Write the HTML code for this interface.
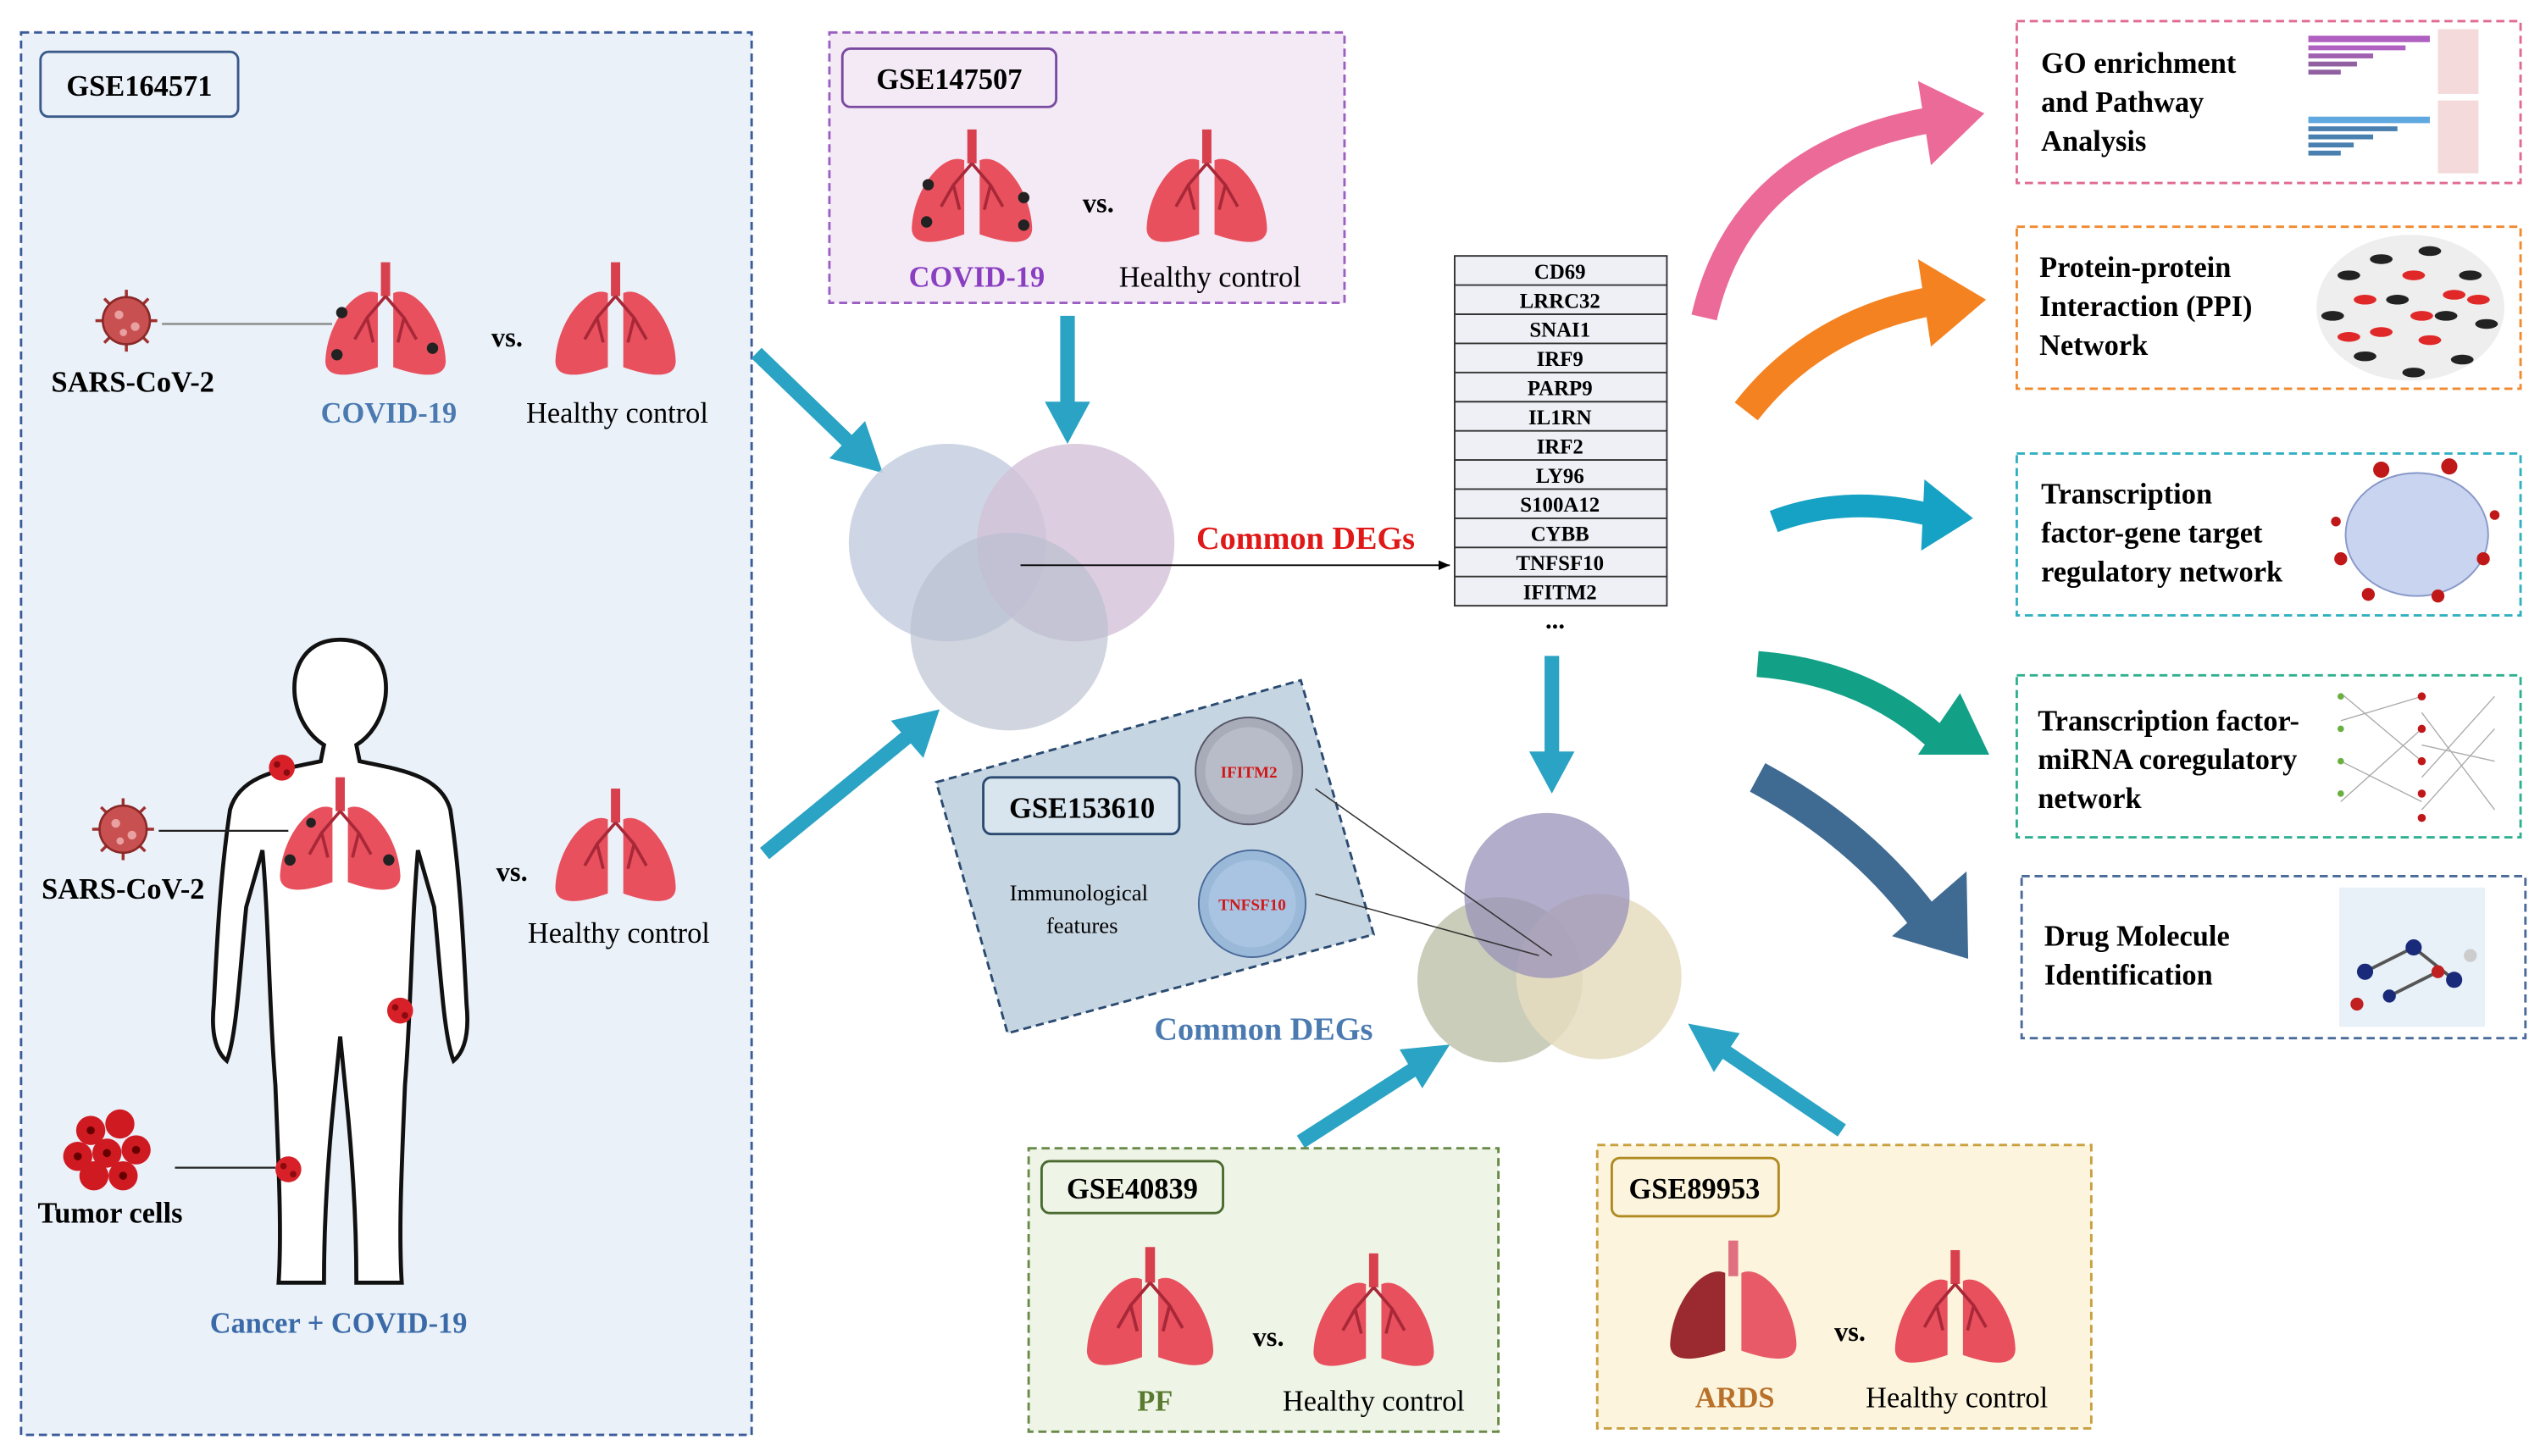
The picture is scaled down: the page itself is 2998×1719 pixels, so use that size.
<!DOCTYPE html>
<html><head><meta charset="utf-8"><style>html,body{margin:0;padding:0;background:#fff}svg{display:block}</style></head><body>
<svg width="2998" height="1719" viewBox="0 0 1568 899" xmlns="http://www.w3.org/2000/svg" font-family="Liberation Serif, serif">
<defs>
<symbol id="lung" viewBox="-42 -42 84 84" overflow="visible">
<rect x="-3" y="-40" width="6" height="22" fill="#d8404e"/>
<path d="M-5,-20 C-18,-26 -38,-2 -39,24 C-39,34 -28,36 -5,28 Z" fill="#e8505e"/>
<path d="M5,-20 C18,-26 38,-2 39,24 C39,34 28,36 5,28 Z" fill="#e8505e"/>
<path d="M0,-18 L-12,-4 L-20,10 M-12,-4 L-8,12 M0,-18 L12,-4 L20,10 M12,-4 L8,12" stroke="#a82838" stroke-width="2" fill="none"/>
</symbol>
<symbol id="lungd" viewBox="-42 -42 84 84" overflow="visible">
<rect x="-3" y="-40" width="6" height="22" fill="#e07080"/>
<path d="M-5,-20 C-18,-26 -38,-2 -39,24 C-39,34 -28,36 -5,28 Z" fill="#9a2a30"/>
<path d="M5,-20 C18,-26 38,-2 39,24 C39,34 28,36 5,28 Z" fill="#e85a68"/>
</symbol>
<symbol id="virus" viewBox="-22 -22 44 44" overflow="visible">
<g stroke="#a03030" stroke-width="2"><path d="M0,-21V21M-21,0H21M-15,-15L15,15M15,-15L-15,15"/></g>
<circle r="16" fill="#c85050"/><circle r="16" fill="none" stroke="#8a2828" stroke-width="1.5"/>
<circle cx="-5" cy="-4" r="3" fill="#e8a0a0"/><circle cx="6" cy="4" r="3" fill="#e8a0a0"/><circle cx="-2" cy="8" r="2.5" fill="#e8a0a0"/>
</symbol>
<symbol id="tumor" viewBox="-10 -10 20 20" overflow="visible">
<circle r="8" fill="#d82028"/><circle cx="-3" cy="-2" r="2" fill="#8a0a10"/><circle cx="3" cy="3" r="2" fill="#8a0a10"/>
</symbol>
<marker id="ah" markerWidth="8" markerHeight="8" refX="7" refY="4" orient="auto"><path d="M0,1 L7,4 L0,7" fill="#000"/></marker>
</defs>

<!-- left panel -->
<rect x="13" y="20" width="451" height="866" fill="#eaf1f8" stroke="#3a5a9a" stroke-width="1.5" stroke-dasharray="5,3"/>
<rect x="25" y="32" width="122" height="40" rx="5" fill="#eaf1f8" stroke="#3a5a8a" stroke-width="1.5"/>
<text x="86" y="59" font-size="18" font-weight="bold" text-anchor="middle">GSE164571</text>
<use href="#virus" x="58" y="178" width="40" height="40"/>
<line x1="100" y1="200" x2="205" y2="200" stroke="#999" stroke-width="1.5"/>
<use href="#lung" x="198" y="160" width="80" height="80"/>
<circle cx="211" cy="193" r="3.5" fill="#222"/><circle cx="208" cy="219" r="3.5" fill="#222"/><circle cx="267" cy="215" r="3.5" fill="#222"/>
<text x="313" y="214" font-size="17" font-weight="bold" text-anchor="middle">vs.</text>
<use href="#lung" x="340" y="160" width="80" height="80"/>
<text x="82" y="242" font-size="18" font-weight="bold" text-anchor="middle">SARS-CoV-2</text>
<text x="240" y="261" font-size="18" font-weight="bold" fill="#4a7ab0" text-anchor="middle">COVID-19</text>
<text x="381" y="261" font-size="18" text-anchor="middle">Healthy control</text>

<!-- human body -->
<path d="M210,395 C190,395 180,410 182,430 C184,445 192,455 200,460 L198,470 C175,475 148,478 142,500 C136,540 134,580 132,620 C130,640 134,650 140,655 C146,640 148,600 152,560 L162,525 C166,570 166,620 170,670 C172,720 174,760 172,792 L200,792 C200,760 202,720 206,680 L210,640 L214,680 C218,720 220,760 220,792 L248,792 C246,760 248,720 250,670 C254,620 254,570 258,525 L268,560 C272,600 274,640 280,655 C286,650 290,640 288,620 C286,580 284,540 278,500 C272,478 245,475 222,470 L220,460 C228,455 236,445 238,430 C240,410 230,395 210,395 Z" fill="#fff" stroke="#111" stroke-width="2.5"/>
<use href="#lung" x="170" y="478" width="80" height="80"/>
<circle cx="179" cy="531" r="3.5" fill="#222"/><circle cx="240" cy="531" r="3.5" fill="#222"/><circle cx="192" cy="508" r="3" fill="#222"/>
<use href="#tumor" x="164" y="464" width="20" height="20"/>
<use href="#tumor" x="237" y="614" width="20" height="20"/>
<use href="#tumor" x="168" y="712" width="20" height="20"/>
<use href="#virus" x="56" y="492" width="40" height="40"/>
<line x1="98" y1="513" x2="178" y2="513" stroke="#222" stroke-width="1.2"/>
<text x="76" y="555" font-size="18" font-weight="bold" text-anchor="middle">SARS-CoV-2</text>
<text x="316" y="544" font-size="17" font-weight="bold" text-anchor="middle">vs.</text>
<use href="#lung" x="340" y="485" width="80" height="80"/>
<text x="382" y="582" font-size="18" text-anchor="middle">Healthy control</text>
<g>
<circle cx="56" cy="698" r="9" fill="#d01a22"/><circle cx="74" cy="694" r="9" fill="#d01a22"/><circle cx="48" cy="714" r="9" fill="#d01a22"/><circle cx="66" cy="712" r="9" fill="#d01a22"/><circle cx="84" cy="710" r="9" fill="#d01a22"/><circle cx="58" cy="726" r="9" fill="#d01a22"/><circle cx="76" cy="726" r="9" fill="#d01a22"/>
<circle cx="56" cy="698" r="2.5" fill="#600"/><circle cx="66" cy="712" r="2.5" fill="#600"/><circle cx="76" cy="726" r="2.5" fill="#600"/><circle cx="84" cy="710" r="2.5" fill="#600"/><circle cx="48" cy="714" r="2.5" fill="#600"/>
</g>
<line x1="108" y1="721" x2="170" y2="721" stroke="#222" stroke-width="1.2"/>
<text x="68" y="755" font-size="18" font-weight="bold" text-anchor="middle">Tumor cells</text>
<text x="209" y="823" font-size="18" font-weight="bold" fill="#3a6aa8" text-anchor="middle">Cancer + COVID-19</text>

<!-- purple box -->
<rect x="512" y="20" width="318" height="167" fill="#f3eaf6" stroke="#9a5fc0" stroke-width="1.5" stroke-dasharray="5,3"/>
<rect x="520" y="30" width="132" height="36" rx="5" fill="#f3eaf6" stroke="#7a4aa0" stroke-width="1.5"/>
<text x="586" y="55" font-size="18" font-weight="bold" text-anchor="middle">GSE147507</text>
<use href="#lung" x="560" y="78" width="80" height="80"/>
<circle cx="573" cy="114" r="3.5" fill="#222"/><circle cx="572" cy="137" r="3.5" fill="#222"/><circle cx="632" cy="122" r="3.5" fill="#222"/><circle cx="632" cy="139" r="3.5" fill="#222"/>
<text x="678" y="131" font-size="17" font-weight="bold" text-anchor="middle">vs.</text>
<use href="#lung" x="705" y="78" width="80" height="80"/>
<text x="603" y="177" font-size="18" font-weight="bold" fill="#8a3fc0" text-anchor="middle">COVID-19</text>
<text x="747" y="177" font-size="18" text-anchor="middle">Healthy control</text>

<!-- teal arrows -->
<g stroke="#2aa3c4" stroke-width="9" fill="#2aa3c4">
<line x1="467" y1="218" x2="525" y2="274"/>
<line x1="659" y1="195" x2="659" y2="252"/>
<line x1="472" y1="527" x2="560" y2="455"/>
<line x1="958" y1="405" x2="958" y2="468"/>
<line x1="803" y1="705" x2="873" y2="660"/>
<line x1="1137" y1="698" x2="1063" y2="648"/>
</g>
<g fill="#2aa3c4">
<polygon points="545,292 512,283 534,260"/>
<polygon points="659,274 645,248 673,248"/>
<polygon points="580,438 570,468 550,445"/>
<polygon points="958,490 944,464 972,464"/>
<polygon points="895,645 878,672 864,648"/>
<polygon points="1042,632 1074,638 1058,662"/>
</g>

<!-- venn 1 -->
<circle cx="585" cy="335" r="61" fill="#c5cfe0" fill-opacity="0.85"/>
<circle cx="664" cy="335" r="61" fill="#d3c2d8" fill-opacity="0.8"/>
<circle cx="623" cy="390" r="61" fill="#b8bfd0" fill-opacity="0.65"/>
<line x1="630" y1="349" x2="895" y2="349" stroke="#000" stroke-width="1" marker-end="url(#ah)"/>
<text x="806" y="339" font-size="20" font-weight="bold" fill="#e01818" text-anchor="middle">Common  DEGs</text>

<!-- gene table -->
<g font-size="13" font-weight="bold" text-anchor="middle">
<rect x="898" y="158" width="131" height="216" fill="#eef0f6" stroke="#333" stroke-width="1"/>
<g stroke="#333" stroke-width="1">
<line x1="898" y1="176" x2="1029" y2="176"/><line x1="898" y1="194" x2="1029" y2="194"/><line x1="898" y1="212" x2="1029" y2="212"/><line x1="898" y1="230" x2="1029" y2="230"/><line x1="898" y1="248" x2="1029" y2="248"/><line x1="898" y1="266" x2="1029" y2="266"/><line x1="898" y1="284" x2="1029" y2="284"/><line x1="898" y1="302" x2="1029" y2="302"/><line x1="898" y1="320" x2="1029" y2="320"/><line x1="898" y1="338" x2="1029" y2="338"/><line x1="898" y1="356" x2="1029" y2="356"/>
</g>
<text x="963" y="172">CD69</text><text x="963" y="190">LRRC32</text><text x="963" y="208">SNAI1</text><text x="963" y="226">IRF9</text><text x="963" y="244">PARP9</text><text x="963" y="262">IL1RN</text><text x="963" y="280">IRF2</text><text x="963" y="298">LY96</text><text x="963" y="316">S100A12</text><text x="963" y="334">CYBB</text><text x="963" y="352">TNFSF10</text><text x="963" y="370">IFITM2</text>
<text x="960" y="388" font-size="16">...</text>
</g>

<!-- tilted box -->
<polygon points="578,483 803,420 848,577 622,638" fill="#c6d5e2" stroke="#2a4a70" stroke-width="1.5" stroke-dasharray="5,3"/>
<rect x="607" y="480" width="121" height="35" rx="5" fill="#d8e4ee" stroke="#2a4a70" stroke-width="1.5"/>
<text x="668" y="505" font-size="18" font-weight="bold" text-anchor="middle">GSE153610</text>
<text x="666" y="556" font-size="14" text-anchor="middle">Immunological</text>
<text x="668" y="576" font-size="14" text-anchor="middle">features</text>
<circle cx="771" cy="476" r="33" fill="#a8abb8" stroke="#556" stroke-width="1"/>
<circle cx="771" cy="476" r="27" fill="#b8bcc8"/>
<text x="771" y="480" font-size="10" font-weight="bold" fill="#d01818" text-anchor="middle">IFITM2</text>
<circle cx="773" cy="558" r="33" fill="#9ab8d8" stroke="#4a6a9a" stroke-width="1"/>
<circle cx="773" cy="558" r="27" fill="#a8c4e2"/>
<text x="773" y="562" font-size="10" font-weight="bold" fill="#d01818" text-anchor="middle">TNFSF10</text>

<!-- venn 2 -->
<circle cx="926" cy="605" r="51" fill="#c4c8b2" fill-opacity="0.9"/>
<circle cx="987" cy="603" r="51" fill="#e6dcc0" fill-opacity="0.85"/>
<circle cx="955" cy="553" r="51" fill="#9892b8" fill-opacity="0.75"/>
<line x1="812" y1="487" x2="958" y2="590" stroke="#333" stroke-width="0.8"/>
<line x1="812" y1="552" x2="950" y2="590" stroke="#333" stroke-width="0.8"/>
<text x="780" y="642" font-size="20" font-weight="bold" fill="#4a7ab0" text-anchor="middle">Common  DEGs</text>

<!-- green box -->
<rect x="635" y="709" width="290" height="175" fill="#eef4e6" stroke="#6a8a4a" stroke-width="1.5" stroke-dasharray="5,3"/>
<rect x="643" y="717" width="112" height="32" rx="5" fill="#eef4e6" stroke="#4a6a30" stroke-width="1.5"/>
<text x="699" y="740" font-size="18" font-weight="bold" text-anchor="middle">GSE40839</text>
<use href="#lung" x="668" y="768" width="84" height="84"/>
<text x="783" y="831" font-size="17" font-weight="bold" text-anchor="middle">vs.</text>
<use href="#lung" x="808" y="772" width="80" height="80"/>
<text x="713" y="871" font-size="18" font-weight="bold" fill="#5a7a30" text-anchor="middle">PF</text>
<text x="848" y="871" font-size="18" text-anchor="middle">Healthy control</text>

<!-- yellow box -->
<rect x="986" y="707" width="305" height="175" fill="#fcf4dc" stroke="#c8a040" stroke-width="1.5" stroke-dasharray="5,3"/>
<rect x="995" y="715" width="103" height="36" rx="5" fill="#fcf4dc" stroke="#b08a20" stroke-width="1.5"/>
<text x="1046" y="740" font-size="18" font-weight="bold" text-anchor="middle">GSE89953</text>
<use href="#lungd" x="1028" y="764" width="84" height="84"/>
<text x="1142" y="828" font-size="17" font-weight="bold" text-anchor="middle">vs.</text>
<use href="#lung" x="1167" y="770" width="80" height="80"/>
<text x="1071" y="869" font-size="18" font-weight="bold" fill="#b8702a" text-anchor="middle">ARDS</text>
<text x="1208" y="869" font-size="18" text-anchor="middle">Healthy control</text>

<!-- curved arrows -->
<path d="M1052,196 Q1075,95 1192,74" stroke="#ec6a98" stroke-width="16" fill="none"/>
<polygon points="1184,50 1225,70 1192,102" fill="#ec6a98"/>
<path d="M1078,254 Q1120,200 1192,186" stroke="#f58220" stroke-width="18" fill="none"/>
<polygon points="1184,160 1226,185 1192,214" fill="#f58220"/>
<path d="M1095,322 Q1140,305 1192,318" stroke="#16a2c4" stroke-width="14" fill="none"/>
<polygon points="1188,296 1218,320 1186,340" fill="#16a2c4"/>
<path d="M1085,410 Q1150,415 1195,455" stroke="#12a086" stroke-width="16" fill="none"/>
<polygon points="1210,428 1228,466 1184,466" fill="#12a086"/>
<path d="M1085,480 Q1150,515 1190,570" stroke="#3f6a92" stroke-width="20" fill="none"/>
<polygon points="1214,538 1215,592 1168,578" fill="#3f6a92"/>

<!-- right boxes -->
<g fill="#fff" stroke-width="1.5" stroke-dasharray="5,3">
<rect x="1245" y="13" width="311" height="100" stroke="#e06a90"/>
<rect x="1245" y="140" width="311" height="100" stroke="#f08a30"/>
<rect x="1245" y="280" width="311" height="100" stroke="#30b0c0"/>
<rect x="1245" y="417" width="311" height="100" stroke="#30b090"/>
<rect x="1248" y="541" width="311" height="100" stroke="#4a6a9a"/>
</g>
<g font-size="18" font-weight="bold">
<text x="1260" y="45">GO enrichment</text><text x="1260" y="69">and Pathway</text><text x="1260" y="93">Analysis</text>
<text x="1259" y="171">Protein-protein</text><text x="1259" y="195">Interaction (PPI)</text><text x="1259" y="219">Network</text>
<text x="1260" y="311">Transcription</text><text x="1260" y="335">factor-gene target</text><text x="1260" y="359">regulatory network</text>
<text x="1258" y="451">Transcription factor-</text><text x="1258" y="475">miRNA coregulatory</text><text x="1258" y="499">network</text>
<text x="1262" y="584">Drug Molecule</text><text x="1262" y="608">Identification</text>
</g>
<!-- thumbnails -->
<g>
<rect x="1425" y="22" width="75" height="4" fill="#b060c0"/><rect x="1425" y="28" width="60" height="3" fill="#b060c0"/><rect x="1425" y="33" width="40" height="3" fill="#a060b0"/><rect x="1425" y="38" width="30" height="3" fill="#9060a0"/><rect x="1425" y="43" width="20" height="3" fill="#9060a0"/>
<rect x="1505" y="18" width="25" height="40" fill="#f4dada"/>
<rect x="1425" y="72" width="75" height="4" fill="#60a8e0"/><rect x="1425" y="78" width="55" height="3" fill="#4a80b0"/><rect x="1425" y="83" width="40" height="3" fill="#4a80b0"/><rect x="1425" y="88" width="28" height="3" fill="#4a80b0"/><rect x="1425" y="93" width="20" height="3" fill="#4a80b0"/>
<rect x="1505" y="62" width="25" height="45" fill="#f4dada"/>
</g>
<g>
<ellipse cx="1488" cy="190" rx="58" ry="45" fill="#eee"/>
<g fill="#222"><ellipse cx="1450" cy="170" rx="7" ry="3"/><ellipse cx="1470" cy="160" rx="7" ry="3"/><ellipse cx="1500" cy="155" rx="7" ry="3"/><ellipse cx="1525" cy="170" rx="7" ry="3"/><ellipse cx="1440" cy="195" rx="7" ry="3"/><ellipse cx="1535" cy="200" rx="7" ry="3"/><ellipse cx="1460" cy="220" rx="7" ry="3"/><ellipse cx="1490" cy="230" rx="7" ry="3"/><ellipse cx="1520" cy="222" rx="7" ry="3"/><ellipse cx="1480" cy="185" rx="7" ry="3"/><ellipse cx="1510" cy="195" rx="7" ry="3"/></g>
<g fill="#e02828"><ellipse cx="1460" cy="185" rx="7" ry="3"/><ellipse cx="1490" cy="170" rx="7" ry="3"/><ellipse cx="1515" cy="182" rx="7" ry="3"/><ellipse cx="1470" cy="205" rx="7" ry="3"/><ellipse cx="1500" cy="210" rx="7" ry="3"/><ellipse cx="1530" cy="185" rx="7" ry="3"/><ellipse cx="1450" cy="208" rx="7" ry="3"/><ellipse cx="1495" cy="195" rx="7" ry="3"/></g>
</g>
<g>
<ellipse cx="1492" cy="330" rx="44" ry="38" fill="#c8d4f0" stroke="#8898c8"/>
<g fill="#c01818"><circle cx="1470" cy="290" r="5"/><circle cx="1512" cy="288" r="5"/><circle cx="1445" cy="345" r="4"/><circle cx="1462" cy="367" r="4"/><circle cx="1505" cy="368" r="4"/><circle cx="1533" cy="345" r="4"/><circle cx="1442" cy="322" r="3"/><circle cx="1540" cy="318" r="3"/></g>
</g>
<g stroke="#aaa" stroke-width="0.7">
<line x1="1445" y1="428" x2="1495" y2="470"/><line x1="1445" y1="445" x2="1495" y2="430"/><line x1="1445" y1="470" x2="1495" y2="495"/><line x1="1445" y1="495" x2="1495" y2="450"/><line x1="1495" y1="440" x2="1540" y2="500"/><line x1="1495" y1="480" x2="1540" y2="430"/><line x1="1495" y1="460" x2="1540" y2="470"/><line x1="1495" y1="500" x2="1540" y2="450"/>
<g fill="#c01818" stroke="none"><circle cx="1495" cy="430" r="2.5"/><circle cx="1495" cy="450" r="2.5"/><circle cx="1495" cy="470" r="2.5"/><circle cx="1495" cy="490" r="2.5"/><circle cx="1495" cy="505" r="2.5"/></g>
<g fill="#6ab040" stroke="none"><circle cx="1445" cy="430" r="2"/><circle cx="1445" cy="450" r="2"/><circle cx="1445" cy="470" r="2"/><circle cx="1445" cy="490" r="2"/></g>
</g>
<g>
<rect x="1444" y="548" width="90" height="86" fill="#e8f0f8"/>
<g stroke="#555" stroke-width="2"><line x1="1460" y1="600" x2="1490" y2="585"/><line x1="1490" y1="585" x2="1515" y2="605"/><line x1="1475" y1="615" x2="1505" y2="600"/></g>
<g fill="#1a2a7a"><circle cx="1460" cy="600" r="5"/><circle cx="1490" cy="585" r="5"/><circle cx="1515" cy="605" r="5"/><circle cx="1475" cy="615" r="4"/></g>
<g fill="#c02020"><circle cx="1505" cy="600" r="4"/><circle cx="1455" cy="620" r="4"/></g>
<circle cx="1525" cy="590" r="4" fill="#ccc"/>
</g>
</svg>
</body></html>
